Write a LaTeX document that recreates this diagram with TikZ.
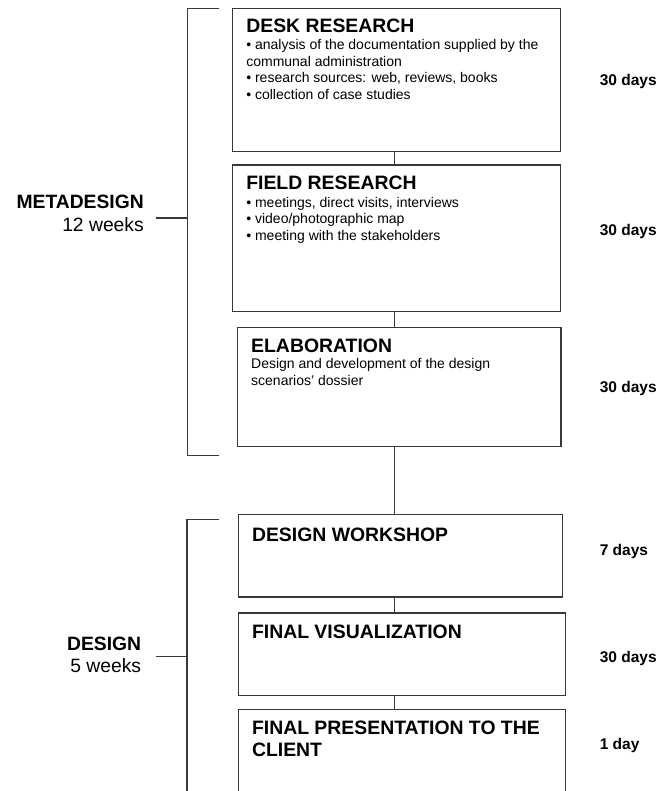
\documentclass[tikz,border=0pt]{standalone}
\usepackage{fontspec}
\setmainfont{Liberation Sans}
\usepackage{tikz}
\usetikzlibrary{positioning}
\definecolor{linegray}{rgb}{0.22,0.22,0.22}

\newcommand{\titlefont}{\fontsize{19.4}{22}\selectfont\bfseries}
\newcommand{\bodyfont}{\fontsize{14}{16.5}\selectfont}

\begin{document}
\begin{tikzpicture}[x=1pt, y=-1pt,
    box/.style={rectangle, draw=linegray, line width=1.2pt, inner sep=0pt},
    boxtext/.style={anchor=north west, inner sep=0pt, align=left, font=\bodyfont},
    phase/.style={anchor=north east, inner sep=0pt, align=right, font=\fontsize{19.3}{22.4}\selectfont},
    days/.style={anchor=base west, inner sep=0pt, font=\fontsize{15.5}{18}\selectfont\bfseries},
    link/.style={draw=linegray, line width=1.2pt}
]

\useasboundingbox (0,0) rectangle (658,791);
\clip (0,0) rectangle (658,791);

\node[box, minimum width=327.9, minimum height=143.4] (desk) at (396.65,80) {};
\node[box, minimum width=327.9, minimum height=146.7] (field) at (396.65,238.35) {};
\node[box, minimum width=323.7, minimum height=118.8] (elab) at (399.15,387.1) {};
\node[box, minimum width=324, minimum height=82.7] (workshop) at (400.7,555.65) {};
\node[box, minimum width=326.5, minimum height=82.5] (visual) at (401.95,654.25) {};
\node[box, minimum width=326.5, minimum height=120] (present) at (401.95,769.3) {};

\node[boxtext] (desktext) at ([shift={(14,11)}]desk.north west) {{\titlefont DESK RESEARCH}\\[1pt]
    • analysis of the documentation supplied by the\\ communal administration\\
    • research sources: web, reviews, books\\ • collection of case studies};
\node[boxtext] (fieldtext) at ([shift={(14,11.7)}]field.north west) {{\titlefont FIELD RESEARCH}\\[1pt]
    • meetings, direct visits, interviews\\ • video/photographic map\\
    • meeting with the stakeholders};
\node[boxtext] (elabtext) at ([shift={(14.3,11.6)}]elab.north west) {{\titlefont ELABORATION}\\[0pt]
    Design and development of the design\\ scenarios’ dossier};
\node[boxtext, font=\titlefont] (workshoptext) at ([shift={(13.7,14)}]workshop.north west) {DESIGN WORKSHOP};
\node[boxtext, font=\titlefont] (visualtext) at ([shift={(13.7,12)}]visual.north west) {FINAL VISUALIZATION};
\node[boxtext, font=\titlefont] (presenttext) at ([shift={(13.7,12.4)}]present.north west) {FINAL PRESENTATION TO THE\\ CLIENT};

\node[phase] (meta) at (144,195.1) {\textbf{METADESIGN}\\ 12 weeks};
\node[phase] (design) at (141.3,636.4) {\textbf{DESIGN}\\ 5 weeks};

\node[days] (deskdays) at (599.6,85.5) {30 days};
\node[days] (fielddays) at (599.6,235.5) {30 days};
\node[days] (elabdays) at (599.6,392.5) {30 days};
\node[days] (workshopdays) at (599.6,555.5) {7 days};
\node[days] (visualdays) at (599.6,662.2) {30 days};
\node[days] (presentdays) at (599.6,749.5) {1 day};

\coordinate (spine) at (394.5,0);
\draw[link] (desk.south -| spine) -- (field.north -| spine);
\draw[link] (field.south -| spine) -- (elab.north -| spine);
\draw[link] (elab.south -| spine) -- (workshop.north -| spine);
\draw[link] (workshop.south -| spine) -- (visual.north -| spine);
\draw[link] (visual.south -| spine) -- (present.north -| spine);

% brackets
\coordinate (metatop) at (219,8.3);
\coordinate (metamid) at (187.7,218);
\coordinate (metabot) at (219,455.3);
\draw[link] (metatop) -| (metamid) |- (metabot);
\draw[link] ([xshift=12pt]meta.east |- metamid) -- (metamid);

\coordinate (designtop) at (219,519.3);
\coordinate (designmid) at (187,656.7);
\coordinate (designbot) at (187,800);
\draw[link] (designtop) -| (designbot);
\draw[link] ([xshift=14.7pt]design.east |- designmid) -- (designmid);

\end{tikzpicture}
\end{document}
